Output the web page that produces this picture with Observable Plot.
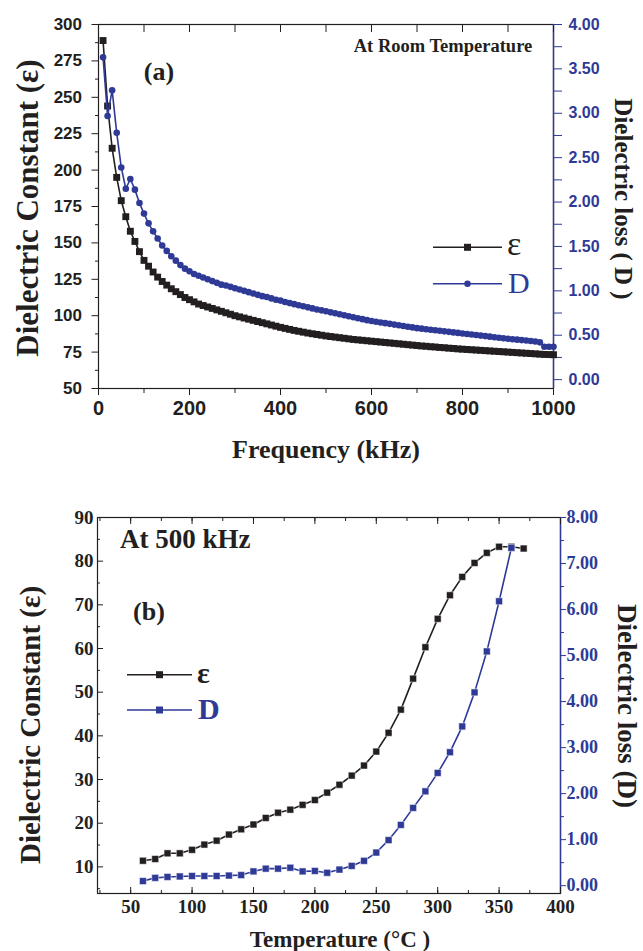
<!DOCTYPE html>
<html>
<head>
<meta charset="utf-8">
<script src="https://cdn.jsdelivr.net/npm/d3@7"></script>
<script src="https://cdn.jsdelivr.net/npm/@observablehq/plot@0.6"></script>
<style>
  body { margin: 0; background: #fff; }
  svg { display: block; }
</style>
</head>
<body>
<div id="chart"></div>
<script>
// ---------------- data: panel (a) ----------------
const freqKHz = [10,20,30,40,50,60,70,80,90,100,110,120,130,140,150,160,170,180,190,200,
  210,220,230,240,250,260,270,280,290,300,310,320,330,340,350,360,370,380,390,400,
  410,420,430,440,450,460,470,480,490,500,510,520,530,540,550,560,570,580,590,600,
  610,620,630,640,650,660,670,680,690,700,710,720,730,740,750,760,770,780,790,800,
  810,820,830,840,850,860,870,880,890,900,910,920,930,940,950,960,970,980,990,1000];
const epsFreq = [289,244,215,195,179,168,158,151,144,138,
  134,130,126.5,123.5,121,118.5,116.5,114.5,112.5,111,
  109.5,108,107,106,105,104,103,102,101,100,
  99.2,98.4,97.6,96.8,96,95.2,94.4,93.6,92.8,92,
  91.3,90.6,89.9,89.3,88.7,88.1,87.6,87.1,86.6,86.1,
  85.7,85.3,84.9,84.5,84.1,83.7,83.4,83.1,82.8,82.5,
  82.2,81.9,81.6,81.3,81,80.7,80.4,80.1,79.8,79.5,
  79.2,79,78.7,78.5,78.2,78,77.7,77.5,77.2,77,
  76.8,76.6,76.4,76.2,76,75.8,75.6,75.4,75.2,75,
  74.8,74.6,74.4,74.2,74,73.8,73.6,73.4,73.3,73.2];
const lossFreq = [3.63,2.97,3.26,2.78,2.39,2.15,2.26,2.14,1.99,1.87,
  1.76,1.67,1.59,1.51,1.45,1.39,1.34,1.29,1.25,1.22,
  1.19,1.17,1.15,1.13,1.11,1.09,1.07,1.06,1.045,1.03,
  1.015,1.0,0.985,0.97,0.955,0.94,0.93,0.915,0.9,0.89,
  0.875,0.862,0.85,0.838,0.826,0.814,0.802,0.79,0.78,0.77,
  0.758,0.747,0.736,0.725,0.714,0.703,0.692,0.681,0.67,0.66,
  0.652,0.644,0.636,0.628,0.62,0.612,0.604,0.596,0.588,0.58,
  0.574,0.568,0.562,0.556,0.55,0.544,0.538,0.532,0.526,0.52,
  0.514,0.508,0.502,0.496,0.49,0.484,0.478,0.472,0.466,0.46,
  0.455,0.45,0.445,0.44,0.435,0.43,0.42,0.37,0.37,0.37];
const freqTicks = [0,200,400,600,800,1000];
const epsTicksA = [50,75,100,125,150,175,200,225,250,275,300];
const lossTicksA = [0,0.5,1,1.5,2,2.5,3,3.5,4];

// ---------------- data: panel (b) ----------------
const tempEps = [60,70,80,90,100,110,120,130,140,150,160,170,180,190,200,210,220,230,240,250,
  260,270,280,290,300,310,320,330,340,350,360,370];
const epsTemp = [11.4,11.8,13.1,13.1,13.9,15.1,16,17.4,18.6,19.7,21.2,22.4,23.1,24.2,25.3,27,28.8,30.9,33.2,36.4,
  40.7,46,53.1,60.3,66.8,72.2,76.4,79.6,81.9,83.3,83.3,82.9];
const tempLoss = [60,70,80,90,100,110,120,130,140,150,160,170,180,190,200,210,220,230,240,250,
  260,270,280,290,300,310,320,330,340,350,360];
const lossTemp = [0.1,0.17,0.19,0.2,0.21,0.21,0.21,0.22,0.23,0.31,0.37,0.37,0.39,0.31,0.32,0.28,0.35,0.43,0.54,0.72,
  0.99,1.32,1.69,2.05,2.45,2.9,3.46,4.2,5.09,6.18,7.34];
const tempTicks = [50,100,150,200,250,300,350,400];
const epsTicksB = [10,20,30,40,50,60,70,80,90];
const lossTicksB = [0,1,2,3,4,5,6,7,8];

// ---------------- styles ----------------
const DARK = "#231f20";
const BLUE = "#2e3a96";
const SANS = "'Liberation Sans', Arial, sans-serif";
const SERIF = "'Liberation Serif', 'Times New Roman', serif";

function addText(svg, txt, x, y, o = {}) {
  const t = d3.select(svg).append("text")
    .attr("x", x).attr("y", y)
    .attr("font-family", o.family || SERIF)
    .attr("font-size", o.size || 20)
    .attr("font-weight", o.weight || "bold")
    .attr("fill", o.fill || DARK)
    .attr("text-anchor", o.anchor || "middle")
    .attr("dominant-baseline", o.baseline || "central")
    .text(txt);
  if (o.rotate) t.attr("transform", `rotate(${o.rotate},${x},${y})`);
  return t;
}
function addLegend(svg, x1, x2, y, color, symbol, size) {
  const g = d3.select(svg).append("g");
  g.append("line").attr("x1", x1).attr("x2", x2).attr("y1", y).attr("y2", y)
    .attr("stroke", color).attr("stroke-width", 1.6);
  const cx = (x1 + x2) / 2;
  if (symbol === "square") {
    g.append("rect").attr("x", cx - size / 2).attr("y", y - size / 2)
      .attr("width", size).attr("height", size).attr("fill", color);
  } else {
    g.append("circle").attr("cx", cx).attr("cy", y).attr("r", size / 2).attr("fill", color);
  }
}
const mids = arr => arr.slice(1).map((v, i) => (v + arr[i]) / 2);
const fix2 = d => (Math.round(d * 100) / 100 + 0).toFixed(2).replace("-0.00", "0.00");

// ================= panel (a) =================
const A = {y0: 50, y1: 300, d0: -0.1, d1: 4.0};
const dToA = d => A.y0 + (d - A.d0) / (A.d1 - A.d0) * (A.y1 - A.y0);
const aToD = v => A.d0 + (v - A.y0) / (A.y1 - A.y0) * (A.d1 - A.d0);
const dataA = freqKHz.map((f, i) => ({f, eps: epsFreq[i], loss: lossFreq[i]}));
const xMinorA = [0,100,200,300,400,500,600,700,800,900,1000];

const plotA = Plot.plot({
  width: 643, height: 475,
  marginLeft: 98, marginRight: 90, marginTop: 24, marginBottom: 87,
  x: {domain: [0, 1000]},
  y: {domain: [A.y0, A.y1]},
  style: {background: "#fff", color: DARK},
  marks: [
    Plot.frame({stroke: DARK, strokeWidth: 1.2}),
    Plot.ruleX([1000], {stroke: BLUE, strokeWidth: 1.4}),
    Plot.axisY({ticks: epsTicksA, tickSize: 6.5, tickPadding: 10, label: null,
      tickFormat: d => String(d),
      fontSize: 17, fontWeight: "bold", fontFamily: SANS, color: DARK}),
    Plot.axisY({ticks: mids(epsTicksA), tickSize: 3, tickFormat: () => "", label: null, color: DARK}),
    Plot.axisX({ticks: freqTicks, tickSize: 7, tickPadding: 5, label: null,
      tickFormat: d => String(d),
      fontSize: 20, fontWeight: "bold", fontFamily: SANS, color: DARK}),
    Plot.axisX({ticks: mids(freqTicks), tickSize: 5, tickFormat: () => "", label: null, color: DARK}),
    Plot.axisX({anchor: "top", ticks: xMinorA, tickSize: -7, tickFormat: () => "", label: null, color: DARK}),
    Plot.axisY({anchor: "right", ticks: lossTicksA.map(dToA), tickSize: 8, tickPadding: 7, label: null,
      tickFormat: v => fix2(aToD(v)),
      fontSize: 16, fontWeight: "bold", fontFamily: SANS, color: BLUE}),
    Plot.axisY({anchor: "right", ticks: mids(lossTicksA).map(dToA), tickSize: 8, tickFormat: () => "",
      label: null, color: BLUE}),
    Plot.line(dataA, {x: "f", y: "eps", stroke: DARK, strokeWidth: 1.6}),
    Plot.dot(dataA, {x: "f", y: "eps", symbol: "square", r: 3.9, fill: DARK, stroke: "none"}),
    Plot.line(dataA, {x: "f", y: d => dToA(d.loss), stroke: BLUE, strokeWidth: 1.6}),
    Plot.dot(dataA, {x: "f", y: d => dToA(d.loss), symbol: "circle", r: 3.3, fill: BLUE, stroke: "none"})
  ]
});
document.getElementById("chart").append(plotA);

addText(plotA, "Dielectric Constant (ε)", 27, 208, {size: 31, rotate: -90});
addText(plotA, "Dielectric loss ( D )", 623, 199, {size: 25, rotate: 90});
addText(plotA, "Frequency (kHz)", 326, 449, {size: 26});
addText(plotA, "At Room Temperature", 443, 46, {size: 18.5});
addText(plotA, "(a)", 159, 71, {size: 26});
addLegend(plotA, 433, 502, 247.3, DARK, "square", 7);
addText(plotA, "ε", 507, 255, {size: 34, weight: "normal", anchor: "start", baseline: "alphabetic"});
addLegend(plotA, 433, 502, 283.7, BLUE, "circle", 6.5);
addText(plotA, "D", 508, 293, {size: 30, weight: "normal", anchor: "start", baseline: "alphabetic", fill: BLUE});

// ================= panel (b) =================
const B = {y0: 3.9, y1: 90, d0: -0.17, d1: 8.0};
const dToB = d => B.y0 + (d - B.d0) / (B.d1 - B.d0) * (B.y1 - B.y0);
const bToD = v => B.d0 + (v - B.y0) / (B.y1 - B.y0) * (B.d1 - B.d0);
const epsDataB = tempEps.map((t, i) => ({t, v: epsTemp[i]}));
const lossDataB = tempLoss.map((t, i) => ({t, v: lossTemp[i]}));
const xMinorB = [25,50,75,100,125,150,175,200,225,250,275,300,325,350,375,400];
const epsMinorB = [5,15,25,35,45,55,65,75,85];

const plotB = Plot.plot({
  width: 643, height: 476,
  marginLeft: 97, marginRight: 83, marginTop: 42, marginBottom: 58,
  x: {domain: [23, 400]},
  y: {domain: [B.y0, B.y1]},
  style: {background: "#fff", color: DARK},
  marks: [
    Plot.frame({stroke: DARK, strokeWidth: 1.2}),
    Plot.ruleX([400], {stroke: BLUE, strokeWidth: 1.4}),
    Plot.axisY({ticks: epsTicksB, tickSize: 0, tickPadding: 4, label: null,
      tickFormat: d => String(d),
      fontSize: 19, fontWeight: "bold", fontFamily: SERIF, color: DARK}),
    Plot.axisY({ticks: epsTicksB, tickSize: -6, tickFormat: () => "", label: null, color: DARK}),
    Plot.axisY({ticks: epsMinorB, tickSize: -3, tickFormat: () => "", label: null, color: DARK}),
    Plot.axisX({ticks: tempTicks, tickSize: 0, tickPadding: 6, label: null,
      tickFormat: d => String(d),
      fontSize: 19, fontWeight: "bold", fontFamily: SERIF, color: DARK}),
    Plot.axisX({ticks: tempTicks, tickSize: -6, tickFormat: () => "", label: null, color: DARK}),
    Plot.axisX({ticks: xMinorB, tickSize: -3, tickFormat: () => "", label: null, color: DARK}),
    Plot.axisX({anchor: "top", ticks: tempTicks, tickSize: -6, tickFormat: () => "", label: null, color: DARK}),
    Plot.axisX({anchor: "top", ticks: xMinorB, tickSize: -3, tickFormat: () => "", label: null, color: DARK}),
    Plot.axisY({anchor: "right", ticks: lossTicksB.map(dToB), tickSize: 5, tickPadding: 1, label: null,
      tickFormat: v => fix2(bToD(v)),
      fontSize: 18, fontWeight: "bold", fontFamily: SERIF, color: BLUE}),
    Plot.axisY({anchor: "right", ticks: mids(lossTicksB).map(dToB), tickSize: 3, tickFormat: () => "",
      label: null, color: BLUE}),
    Plot.line(epsDataB, {x: "t", y: "v", stroke: DARK, strokeWidth: 1.6}),
    Plot.dot(epsDataB, {x: "t", y: "v", symbol: "square", r: 3.9, fill: DARK, stroke: "#fff", strokeWidth: 0.5}),
    Plot.line(lossDataB, {x: "t", y: d => dToB(d.v), stroke: BLUE, strokeWidth: 1.6}),
    Plot.dot(lossDataB, {x: "t", y: d => dToB(d.v), symbol: "square", r: 3.9, fill: BLUE, stroke: "#fff", strokeWidth: 0.5})
  ]
});
document.getElementById("chart").append(plotB);

const oy = 475;
addText(plotB, "Dielectric Constant (ε)", 30, 725 - oy, {size: 29, rotate: -90});
addText(plotB, "Dielectric loss (D)", 627, 706 - oy, {size: 27, rotate: 90});
addText(plotB, "Temperature (°C )", 340, 939 - oy, {size: 23});
addText(plotB, "At 500 kHz", 120, 539 - oy, {size: 27, anchor: "start"});
addText(plotB, "(b)", 149, 611 - oy, {size: 26});
addLegend(plotB, 127, 192, 674.7 - oy, DARK, "square", 7);
addText(plotB, "ε", 197, 683 - oy, {size: 30, anchor: "start", baseline: "alphabetic"});
addLegend(plotB, 127, 192, 710 - oy, BLUE, "square", 7);
addText(plotB, "D", 198, 719 - oy, {size: 30, anchor: "start", baseline: "alphabetic", fill: BLUE});
</script>
</body>
</html>
